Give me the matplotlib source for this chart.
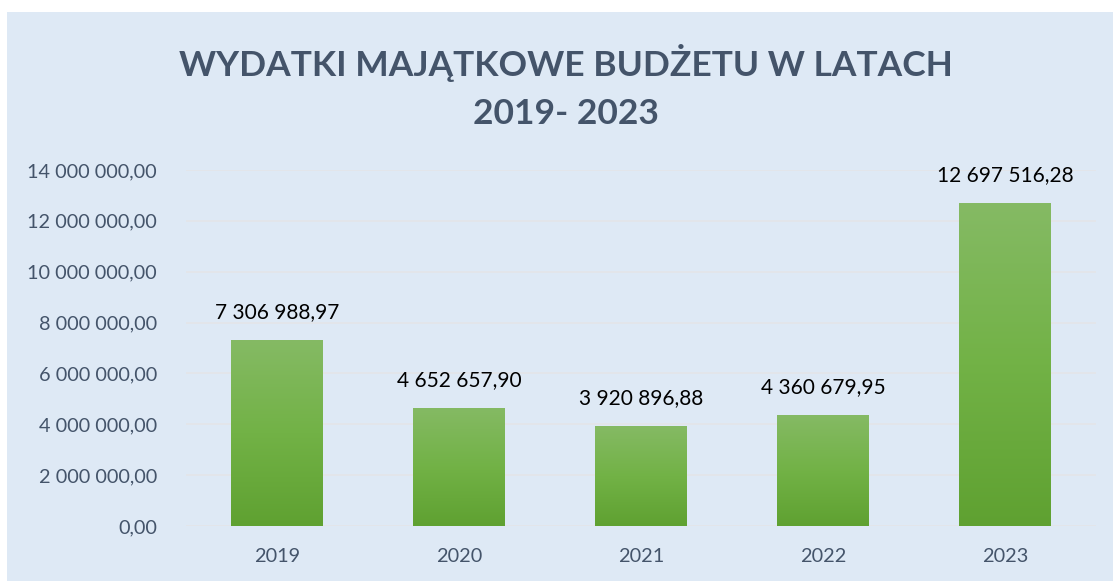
import matplotlib
matplotlib.use("Agg")
import matplotlib.pyplot as plt
import numpy as np
from matplotlib.colors import LinearSegmentedColormap

years = ["2019", "2020", "2021", "2022", "2023"]
values = [7306988.97, 4652657.90, 3920896.88, 4360679.95, 12697516.28]
value_labels = ["7 306 988,97", "4 652 657,90", "3 920 896,88", "4 360 679,95", "12 697 516,28"]
yticks = [0, 2000000, 4000000, 6000000, 8000000, 10000000, 12000000, 14000000]
ytick_labels = ["0,00", "2 000 000,00", "4 000 000,00", "6 000 000,00",
                "8 000 000,00", "10 000 000,00", "12 000 000,00", "14 000 000,00"]
title = "WYDATKI MAJĄTKOWE BUDŻETU W LATACH\n2019- 2023"

BG = "#dee9f5"
TXT = "#44546a"
plt.rcParams['font.family'] = ['Lato', 'DejaVu Sans']

fig = plt.figure(figsize=(11.13, 5.81), dpi=100)
fig.patch.set_facecolor("white")

# chart panel background
bg = fig.add_axes([7 / 1113, 0, 1 - 7 / 1113, (581 - 12) / 581], zorder=0)
bg.set_facecolor(BG)
bg.set_xticks([])
bg.set_yticks([])
for s in bg.spines.values():
    s.set_visible(False)

ax = fig.add_axes([186 / 1113, (581 - 526) / 581, (1096 - 186) / 1113, (526 - 170) / 581], zorder=1)
ax.patch.set_alpha(0)

x = np.arange(len(years))
bars = ax.bar(x, values, width=0.505, color="none", edgecolor="none", zorder=2)

cmap = LinearSegmentedColormap.from_list("g", ["#5fa131", "#72b246", "#85ba64"])
grad = np.linspace(0, 1, 256).reshape(-1, 1)
for b in bars:
    x0, w, h = b.get_x(), b.get_width(), b.get_height()
    im = ax.imshow(grad, cmap=cmap, aspect="auto", origin="lower",
                   extent=[x0, x0 + w, 0, h], zorder=2)
    im.set_clip_path(b)

ax.set_xlim(-0.5, len(years) - 0.5)
ax.set_ylim(0, 14000000)
ax.set_yticks(yticks)
ax.set_yticklabels(ytick_labels)
ax.set_xticks(x)
ax.set_xticklabels(years)
ax.tick_params(axis="both", length=0, colors=TXT, labelsize=14.3)
ax.tick_params(axis="y", pad=21)
ax.tick_params(axis="x", pad=16)
ax.grid(axis="y", color="#e3e5e9", linewidth=1.3, zorder=0)
ax.set_axisbelow(True)
for s in ax.spines.values():
    s.set_visible(False)

for xi, v, lab in zip(x, values, value_labels):
    ax.annotate(lab, (xi, v), xytext=(0, 13), textcoords="offset points",
                ha="center", va="bottom", fontsize=15, color="black")

fig.text(566 / 1113, (581 - 87) / 581, title, ha="center", va="center",
         fontsize=25.5, fontweight="bold", color=TXT, linespacing=1.62)

fig.savefig("out.png", dpi=100, facecolor=fig.get_facecolor())
